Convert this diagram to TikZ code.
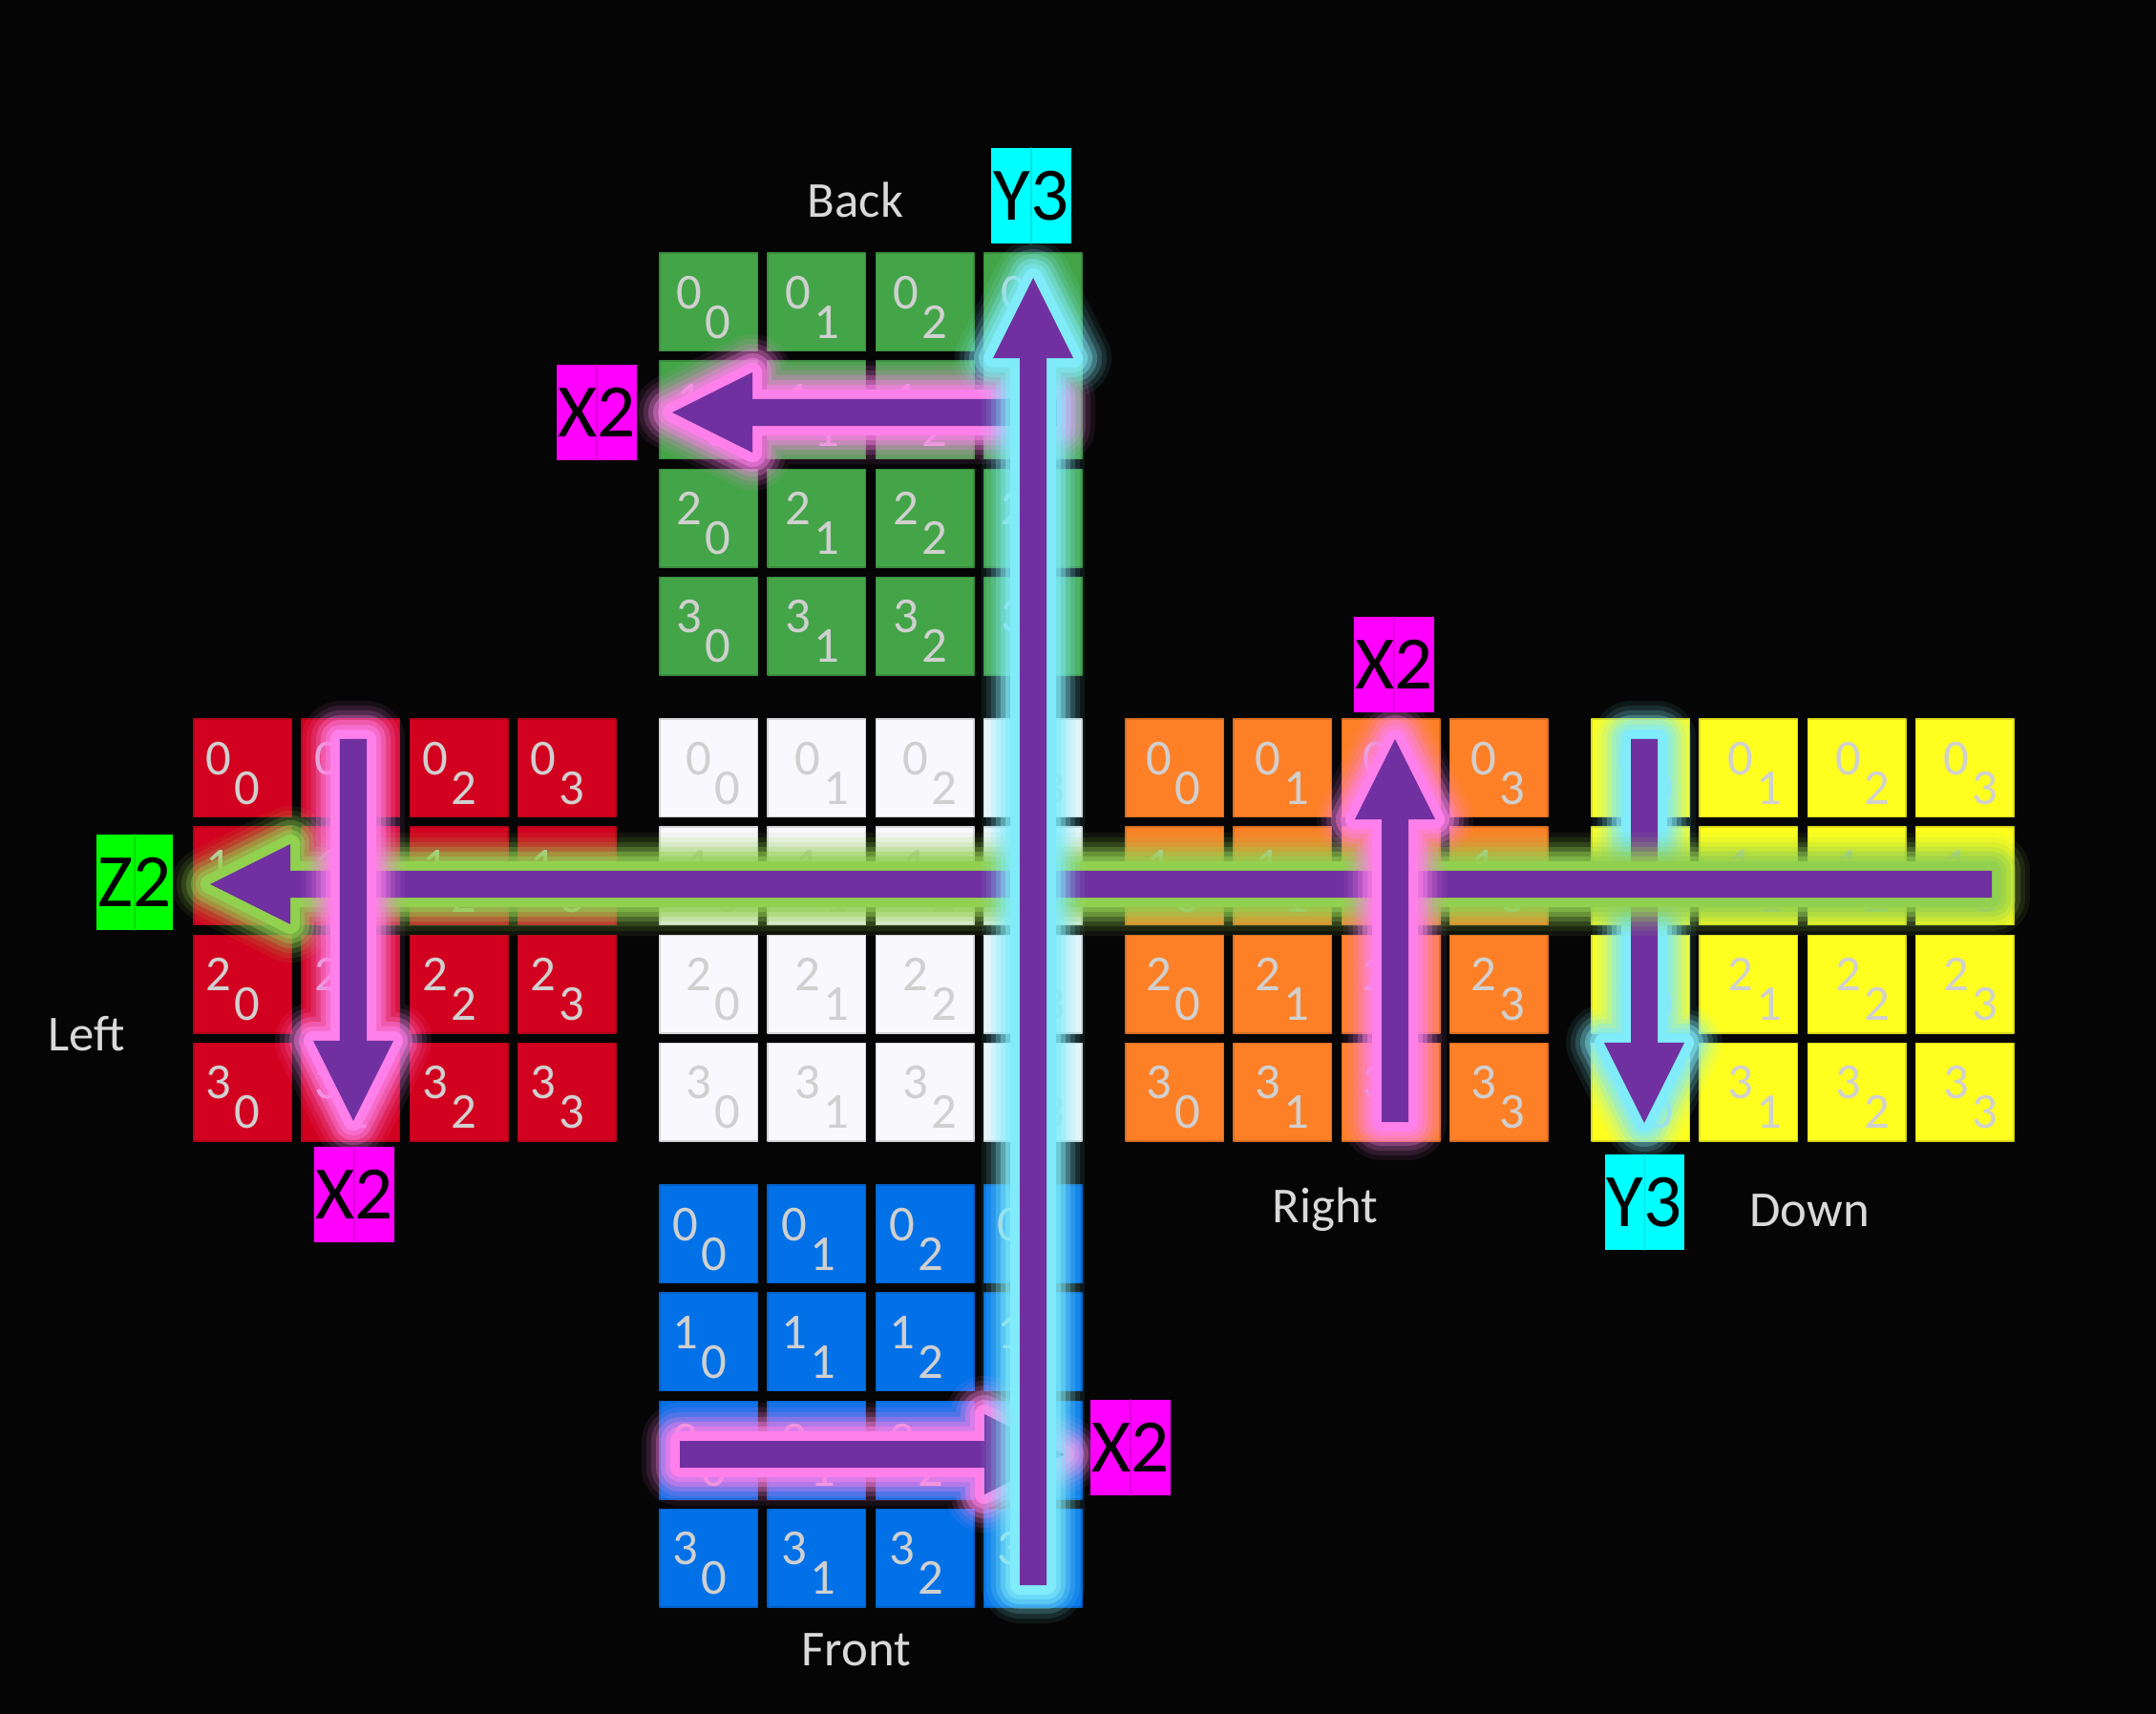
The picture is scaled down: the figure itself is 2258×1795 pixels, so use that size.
\documentclass[tikz,border=0pt]{standalone}
\usepackage{fontspec}
\setmainfont{Carlito}
\usetikzlibrary{calc}
\definecolor{bg}{HTML}{050505}
\definecolor{backgreen}{HTML}{43A548}
\definecolor{leftred}{HTML}{D2011F}
\definecolor{upwhite}{HTML}{F9F8FD}
\definecolor{rightorange}{HTML}{FD8027}
\definecolor{downyellow}{HTML}{FFFF1F}
\definecolor{frontblue}{HTML}{0271E8}
\definecolor{arrowpurple}{HTML}{7030A0}
\definecolor{glowcyan}{HTML}{80ECFA}
\definecolor{glowpink}{HTML}{FF80EA}
\definecolor{glowgreen}{HTML}{92D050}
\definecolor{digitgray}{HTML}{D0D0D0}
\definecolor{labelgray}{HTML}{D9D9D9}
\definecolor{tagcyan}{HTML}{00FFFF}
\definecolor{tagmagenta}{HTML}{FF00FF}
\definecolor{taggreen}{HTML}{00FF00}
\begin{document}
\begin{tikzpicture}[x=0.01cm, y=-0.01cm, line join=round, line cap=round,
	cell/.style={rectangle, minimum size=1.025cm, inner sep=0pt, line width=0.4pt},
	digit/.style={inner sep=0pt, text=digitgray, font=\fontsize{15}{16}\selectfont},
	facename/.style={inner sep=0pt, anchor=base, text=labelgray, font=\fontsize{15}{18}\selectfont},
	tag/.style={rectangle, fill=#1, minimum width=0.83cm, minimum height=1cm, inner sep=0pt, text=black, font=\fontsize{22.5}{26}\selectfont,
		path picture={\draw[black!12!#1, line width=0.3pt] (path picture bounding box.north)--(path picture bounding box.south);}}]
	\def\pitch{113.2}
	\def\face#1#2#3#4#5{%
		\foreach \row in {0,...,3}{\foreach \col in {0,...,3}{%
				\node[cell, fill=#4, draw=#4!85!black] (#1-\row-\col) at ({#2+51.25+\pitch*\col},{#3+51.25+\pitch*\row}) {};
				\node[digit] at ($(#1-\row-\col.north west)+(#5,42)$) {\row};
				\node[digit] at ($(#1-\row-\col.north west)+(#5+30,73)$) {\col};
			}}}
	\def\glowarrow#1#2#3{%
		\coordinate (ah) at ($(#2)!0.84cm!(#1)$);
		\coordinate (p1) at ($(#1)!0.14cm!90:(#2)$);
		\coordinate (p2) at ($(ah)!0.14cm!90:(#2)$);
		\coordinate (p3) at ($(ah)!0.42cm!90:(#2)$);
		\coordinate (p4) at ($(ah)!0.42cm!-90:(#2)$);
		\coordinate (p5) at ($(ah)!0.14cm!-90:(#2)$);
		\coordinate (p6) at ($(#1)!0.14cm!-90:(#2)$);
		\foreach \w/\o in {0.8cm/0.08, 0.7cm/0.11, 0.6cm/0.17, 0.5cm/0.27, 0.4cm/0.4, 0.3cm/0.5, 0.2cm/1}
		\draw[#3, line width=\w, opacity=\o] (p1)--(p2)--(p3)--(#2)--(p4)--(p5)--(p6)--cycle;
		\fill[arrowpurple] (p1)--(p2)--(p3)--(#2)--(p4)--(p5)--(p6)--cycle;}
	\fill[bg] (0,0) rectangle (2258,1795);
	% faces
	\face{back}{691}{265}{backgreen}{32}
	\face{left}{203}{753}{leftred}{27}
	\face{up}{691}{753}{upwhite}{42}
	\face{right}{1179}{753}{rightorange}{36}
	\face{down}{1667}{753}{downyellow}{43}
	\face{front}{691}{1241}{frontblue}{28}
	\node[facename] (backlbl) at (896,228) {Back};
	\node[facename] (leftlbl) at (91,1100) {Left};
	\node[facename] (rightlbl) at (1388,1280) {Right};
	\node[facename] (downlbl) at (1895,1284) {Down};
	\node[facename] (frontlbl) at (897,1744) {Front};
	% moves
	\coordinate (bx2a) at (1107,432); \coordinate (bx2b) at (704,432);
	\coordinate (fx2a) at (712,1523); \coordinate (fx2b) at (1115,1523);
	\coordinate (dy3a) at (1722,774); \coordinate (dy3b) at (1722,1176);
	\coordinate (z2a) at (2086,926); \coordinate (z2b) at (220,926);
	\coordinate (y3a) at (1082,1660); \coordinate (y3b) at (1082,291);
	\coordinate (lx2a) at (370,774); \coordinate (lx2b) at (370,1174);
	\coordinate (rx2a) at (1461,1175); \coordinate (rx2b) at (1461,774);
	\glowarrow{bx2a}{bx2b}{glowpink}
	\glowarrow{fx2a}{fx2b}{glowpink}
	\glowarrow{dy3a}{dy3b}{glowcyan}
	\glowarrow{z2a}{z2b}{glowgreen}
	\glowarrow{y3a}{y3b}{glowcyan}
	\glowarrow{lx2a}{lx2b}{glowpink}
	\glowarrow{rx2a}{rx2b}{glowpink}
	\node[tag=tagcyan] (y3top) at (1080,205) {Y3};
	\node[tag=tagmagenta] (x2back) at (625,432) {X2};
	\node[tag=taggreen, minimum width=0.8cm] (z2) at (141,924) {Z2};
	\node[tag=tagmagenta] (x2left) at (371,1251) {X2};
	\node[tag=tagmagenta] (x2right) at (1460,696) {X2};
	\node[tag=tagcyan] (y3down) at (1722,1259) {Y3};
	\node[tag=tagmagenta] (x2front) at (1184,1516) {X2};
\end{tikzpicture}
\end{document}
